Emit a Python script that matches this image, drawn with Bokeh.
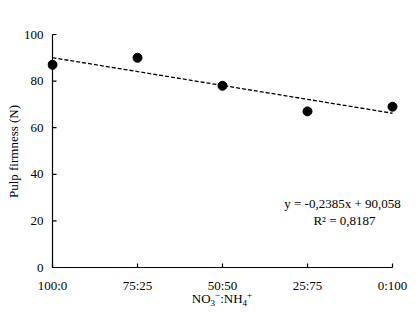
from bokeh.plotting import figure
from bokeh.models import Label, FixedTicker, Range1d, Div
from bokeh.layouts import column
from bokeh.embed import file_html
from bokeh.resources import INLINE

# data
categories = ["100:0", "75:25", "50:50", "25:75", "0:100"]
x_pos = [0, 25, 50, 75, 100]
firmness = [87, 90, 78, 67, 69]
slope = -0.2385
intercept = 90.058
eq_text = "y = -0,2385x + 90,058"
r2_text = "R\u00b2 = 0,8187"
y_ticks = [0, 20, 40, 60, 80, 100]
y_title = "Pulp firmness (N)"

FONT = "Liberation Serif"

# layout constants (pixels)
FIG_W, FIG_H = 418, 295
B_LEFT, B_RIGHT, B_TOP, B_BOTTOM = 47, 8, 32, 25
PX_PER_X = 3.4      # pixels per x unit
PX_PER_Y = 2.33     # pixels per y unit
PAD_L, PAD_R, PAD_T, PAD_B = 5, 18, 2, 3
TICK_PX = 4
x_start = x_pos[0] - PAD_L / PX_PER_X
x_end = x_pos[-1] + PAD_R / PX_PER_X
y_start = y_ticks[0] - PAD_B / PX_PER_Y
y_end = y_ticks[-1] + PAD_T / PX_PER_Y
tick_dx = TICK_PX / PX_PER_X
tick_dy = TICK_PX / PX_PER_Y

p = figure(width=FIG_W, height=FIG_H, output_backend="svg", toolbar_location=None,
           x_range=Range1d(x_start, x_end), y_range=Range1d(y_start, y_end),
           min_border_left=B_LEFT, min_border_right=B_RIGHT,
           min_border_top=B_TOP, min_border_bottom=B_BOTTOM)
p.outline_line_color = None
p.grid.visible = False

# axis rules and inward ticks (drawn inside the frame so they are not clipped)
p.line([x_pos[0], x_pos[-1]], [y_ticks[0], y_ticks[0]], line_color="black", line_width=1.2)
p.line([x_pos[0], x_pos[0]], [y_ticks[0], y_ticks[-1]], line_color="black", line_width=1.2)
p.segment(x0=x_pos, y0=[y_ticks[0]] * len(x_pos), x1=x_pos,
          y1=[y_ticks[0] + tick_dy] * len(x_pos), line_color="black", line_width=1.2)
p.segment(x0=[x_pos[0]] * len(y_ticks), y0=y_ticks, x1=[x_pos[0] + tick_dx] * len(y_ticks),
          y1=y_ticks, line_color="black", line_width=1.2)

# trend line and points
trend_x = [x_pos[0], x_pos[-1]]
trend_y = [intercept + slope * x for x in trend_x]
p.line(trend_x, trend_y, line_color="black", line_width=1.3, line_dash="4 2")
p.scatter(x_pos, firmness, size=9, fill_color="black", line_color="black")

p.xaxis.ticker = FixedTicker(ticks=x_pos)
p.xaxis.major_label_overrides = {x: c for x, c in zip(x_pos, categories)}
p.yaxis.ticker = FixedTicker(ticks=y_ticks)
p.yaxis.axis_label = y_title
p.axis.major_label_text_font = FONT
p.axis.axis_label_text_font = FONT
p.axis.major_label_text_font_size = "13px"
p.axis.axis_label_text_font_size = "13px"
p.axis.axis_label_text_font_style = "normal"
p.axis.major_label_text_color = "black"
p.axis.axis_label_text_color = "black"
p.axis.axis_line_color = None
p.axis.major_tick_line_color = None
p.axis.minor_tick_line_color = None
p.axis.major_tick_in = 0
p.axis.major_tick_out = 0
p.xaxis.major_label_standoff = 7
p.yaxis.major_label_standoff = 4
p.yaxis.axis_label_standoff = 0

p.add_layout(Label(x=295, y=67, x_units="screen", y_units="screen",
                   text=eq_text, text_font=FONT, text_font_size="13px",
                   text_align="center", text_baseline="middle", text_color="black"))
p.add_layout(Label(x=297, y=50, x_units="screen", y_units="screen",
                   text=r2_text, text_font=FONT, text_font_size="13px",
                   text_align="center", text_baseline="middle", text_color="black"))

x_title_html = ("<div style=\"position:relative; left:13px; top:-4px; width:418px; text-align:center; "
                "font-family:'Liberation Serif'; font-size:13px; line-height:14px; color:black;\">"
                "NO<span style=\"font-size:9px; vertical-align:-3px; line-height:0\">3</span>"
                "<span style=\"font-size:9px; vertical-align:5px; line-height:0\">\u2212</span>"
                ":NH<span style=\"font-size:9px; vertical-align:-3px; line-height:0\">4</span>"
                "<span style=\"font-size:9px; vertical-align:5px; line-height:0\">+</span></div>")
title_div = Div(text=x_title_html, width=418, height=14, margin=0)

layout = column(p, title_div, spacing=0)
open("out.html", "w").write(file_html(layout, INLINE))
